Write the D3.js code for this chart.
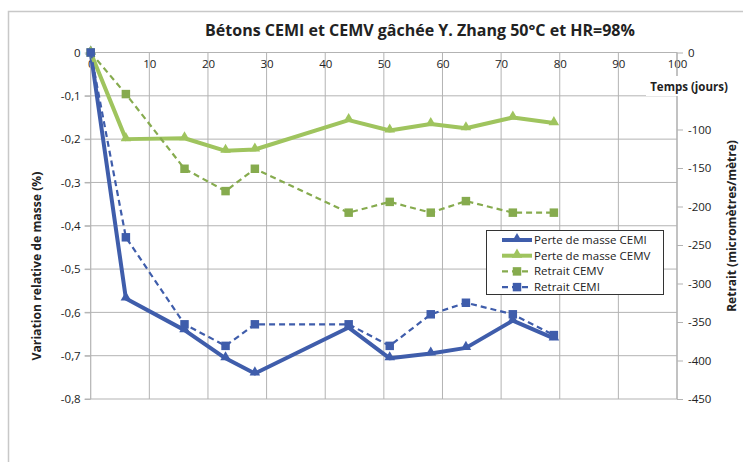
<!DOCTYPE html>
<html>
<head>
<meta charset="utf-8">
<script src="https://cdn.jsdelivr.net/npm/d3@7"></script>
<style>
  html, body { margin: 0; padding: 0; background: #fff; }
  svg { display: block; }
  text { font-family: "Open Sans", "Noto Sans", sans-serif; fill: #222; }
</style>
</head>
<body>
<svg id="chart" width="743" height="462"></svg>
<script>
// Temps (jours)
const days = [0, 6, 16, 23, 28, 44, 51, 58, 64, 72, 79];
// Variation relative de masse (%)
const perteCEMI = [0, -0.568, -0.641, -0.706, -0.741, -0.635, -0.706, -0.695, -0.682, -0.619, -0.660];
const perteCEMV = [0, -0.200, -0.198, -0.227, -0.224, -0.156, -0.180, -0.165, -0.175, -0.150, -0.163];
// Retrait (micromètres/mètre)
const retraitCEMV = [0, -54, -151, -180, -151, -208, -194, -208, -193, -208, -208];
const retraitCEMI = [0, -240, -353, -381, -353, -353, -381, -340, -325, -340, -367];

const xTicks = [0, 10, 20, 30, 40, 50, 60, 70, 80, 90, 100];
const leftTicks = [0, -0.1, -0.2, -0.3, -0.4, -0.5, -0.6, -0.7, -0.8];
const rightTicks = [0, -100, -150, -200, -250, -300, -350, -400, -450];

const title = "Bétons CEMI et CEMV gâchée Y. Zhang 50°C et HR=98%";
const blue = "#3f5dab", green = "#9fc45e", greenDark = "#86ab4e";
const grid = "#b3b3b3";

const svg = d3.select("#chart");

// chart frame
svg.append("rect").attr("x", 8.5).attr("y", 11.5).attr("width", 760).attr("height", 470)
  .attr("fill", "none").attr("stroke", "#c8c8c8").attr("stroke-width", 1.5);

const plot = { left: 90.7, right: 677, top: 52.5, bottom: 399 };
const x = d3.scaleLinear().domain([0, 100]).range([plot.left, plot.right]);
const yL = d3.scaleLinear().domain([0, -0.8]).range([plot.top, plot.bottom]);
const yR = d3.scaleLinear().domain([0, -450]).range([plot.top, plot.bottom]);

// gridlines
svg.append("g").selectAll("line").data(xTicks.slice(1)).join("line")
  .attr("x1", d => x(d)).attr("x2", d => x(d))
  .attr("y1", plot.top).attr("y2", plot.bottom)
  .attr("stroke", grid).attr("stroke-width", 1);
svg.append("g").selectAll("line").data(leftTicks.slice(1)).join("line")
  .attr("x1", plot.left - 6).attr("x2", plot.right)
  .attr("y1", d => yL(d)).attr("y2", d => yL(d))
  .attr("stroke", grid).attr("stroke-width", 1);

// axes
const axisX = svg.append("g").attr("transform", `translate(0,${plot.top})`)
  .call(d3.axisBottom(x).tickValues(xTicks).tickSize(0).tickPadding(6));
const axisL = svg.append("g").attr("transform", `translate(${plot.left},0)`)
  .call(d3.axisLeft(yL).tickValues(leftTicks).tickSize(6).tickPadding(4)
    .tickFormat(d => d === 0 ? "0" : d3.format(".1f")(d).replace(".", ",").replace("−", "-")));
const axisR = svg.append("g").attr("transform", `translate(${plot.right},0)`)
  .call(d3.axisRight(yR).tickValues(rightTicks).tickSize(6).tickPadding(5)
    .tickFormat(d => String(d)));
[axisX, axisL, axisR].forEach(g => {
  g.select(".domain").attr("stroke", grid).attr("stroke-width", 1.2);
  g.selectAll(".tick line").attr("stroke", grid);
  g.selectAll("text").attr("font-size", 11.5).attr("fill", "#222")
    .attr("font-family", "'Open Sans', sans-serif");
});
axisX.selectAll("text").attr("dy", "0.85em");
axisR.select(".domain").attr("d", `M0,${plot.top}V${plot.bottom}`);
axisL.select(".domain").attr("d", `M0,${plot.top}V${plot.bottom}`);
axisX.select(".domain").attr("d", `M${plot.left},0H${plot.right}`);

// title
svg.append("text").attr("x", 420).attr("y", 36).attr("text-anchor", "middle")
  .attr("font-size", 16).attr("font-weight", "bold").text(title);

// axis titles
svg.append("text").attr("transform", "translate(41,266) rotate(-90)")
  .attr("text-anchor", "middle").attr("font-size", 12.2).attr("font-weight", "bold")
  .text("Variation relative de masse (%)");
svg.append("text").attr("transform", "translate(736,226) rotate(-90)")
  .attr("text-anchor", "middle").attr("font-size", 12).attr("font-weight", "bold")
  .text("Retrait (micromètres/mètre)");
svg.append("rect").attr("x", 646).attr("y", 76).attr("width", 88).attr("height", 20).attr("fill", "#fff");
svg.append("text").attr("x", 689).attr("y", 91).attr("text-anchor", "middle")
  .attr("font-size", 11.5).attr("font-weight", "bold").text("Temps (jours)");

// series
const series = [
  { name: "Perte de masse CEMI", values: perteCEMI, y: yL, color: blue, width: 4, dash: null, marker: "tri" },
  { name: "Perte de masse CEMV", values: perteCEMV, y: yL, color: green, width: 4, dash: null, marker: "tri" },
  { name: "Retrait CEMV", values: retraitCEMV, y: yR, color: greenDark, width: 2.2, dash: "6,4", marker: "sq" },
  { name: "Retrait CEMI", values: retraitCEMI, y: yR, color: blue, width: 2.2, dash: "6,4", marker: "sq" }
];

const symTri = d3.symbol().type(d3.symbolTriangle).size(48);
const symSq = d3.symbol().type(d3.symbolSquare).size(72);

series.forEach(s => {
  const pts = days.map((d, i) => [x(d), s.y(s.values[i])]);
  svg.append("path").datum(pts)
    .attr("d", d3.line())
    .attr("fill", "none").attr("stroke", s.color).attr("stroke-width", s.width)
    .attr("stroke-dasharray", s.dash).attr("stroke-linejoin", "round");
  svg.append("g").selectAll("path").data(pts).join("path")
    .attr("transform", p => `translate(${p[0]},${p[1] + (s.marker === "tri" ? -1 : 0)})`)
    .attr("d", s.marker === "tri" ? symTri : symSq)
    .attr("fill", s.color);
});

// legend
const lg = svg.append("g");
lg.append("rect").attr("x", 486.5).attr("y", 230.5).attr("width", 177).attr("height", 64)
  .attr("fill", "#fff").attr("stroke", "#333").attr("stroke-width", 1);
series.forEach((s, i) => {
  const yy = 240 + i * 15.7;
  lg.append("line").attr("x1", 502).attr("x2", 532).attr("y1", yy).attr("y2", yy)
    .attr("stroke", s.color).attr("stroke-width", s.width).attr("stroke-dasharray", s.dash);
  lg.append("path").attr("transform", `translate(517,${yy + (s.marker === "tri" ? -1 : 0)})`)
    .attr("d", s.marker === "tri" ? symTri : symSq).attr("fill", s.color);
  lg.append("text").attr("x", 534).attr("y", yy + 4).attr("font-size", 11.5).text(s.name);
});
</script>
</body>
</html>
